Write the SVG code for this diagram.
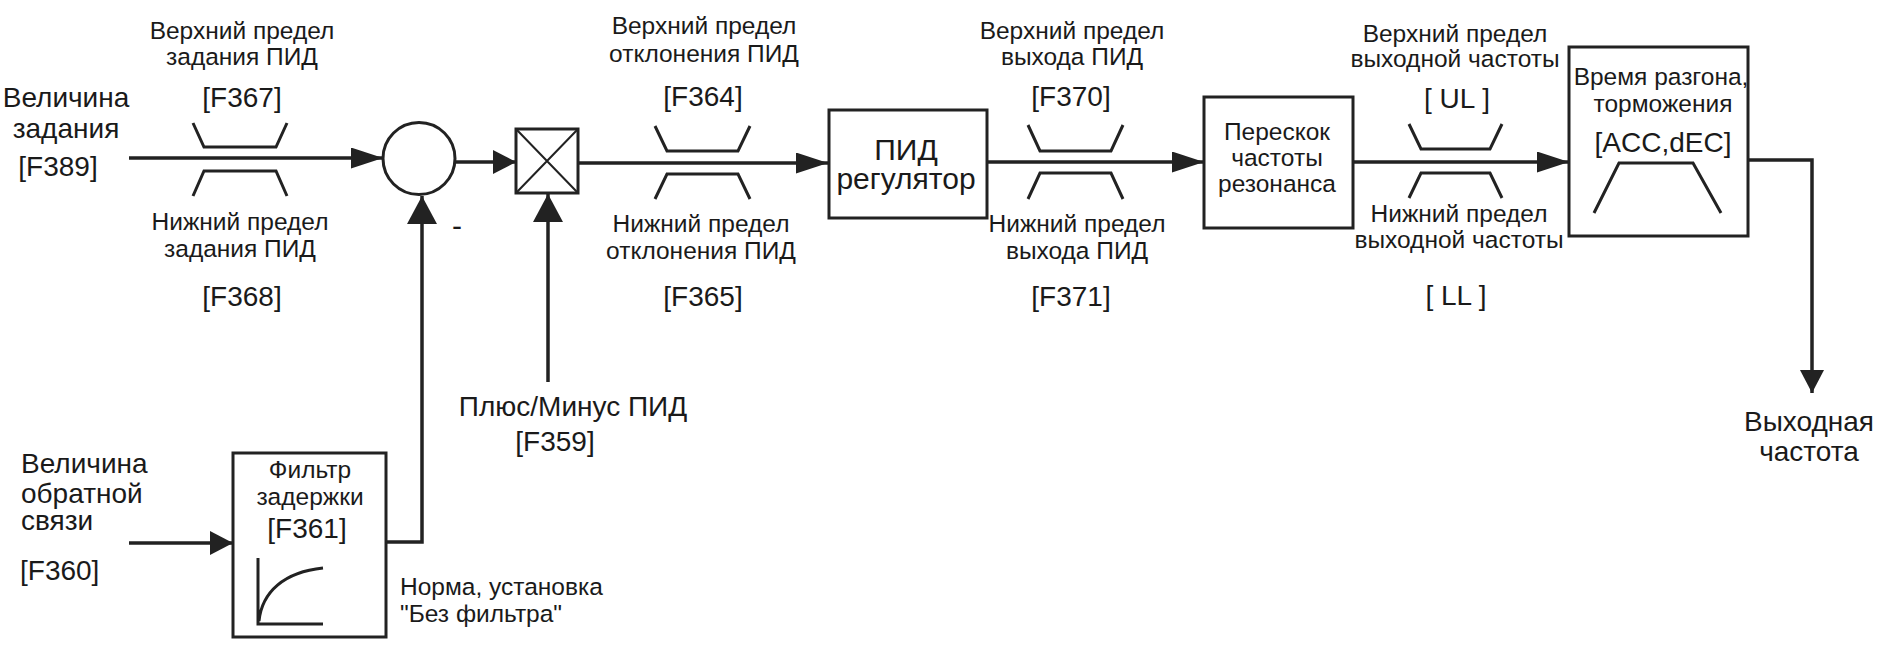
<svg xmlns="http://www.w3.org/2000/svg" width="1877" height="645" viewBox="0 0 1877 645">
<style>
text{font-family:"Liberation Sans",Arial,sans-serif;fill:#1a1a1a}
.s{font-size:24.5px}
.c{font-size:28px}
.b{font-size:28px}
.m{text-anchor:middle}
.box{fill:#fff;stroke:#222;stroke-width:3}
.lim{fill:none;stroke:#222;stroke-width:3}
.ln{fill:none;stroke:#222;stroke-width:3.5}
</style>
<defs>
<marker id="ah" markerUnits="userSpaceOnUse" markerWidth="32" markerHeight="21" refX="32" refY="10.5" orient="auto" viewBox="0 0 32 21"><path d="M0,0L32,10.5L0,21z" fill="#222"/></marker>
<marker id="ahs" markerUnits="userSpaceOnUse" markerWidth="23" markerHeight="24" refX="23" refY="12" orient="auto" viewBox="0 0 23 24"><path d="M0,0L23,12L0,24z" fill="#222"/></marker>
<marker id="ahv" markerUnits="userSpaceOnUse" markerWidth="28" markerHeight="30" refX="28" refY="15" orient="auto" viewBox="0 0 28 30"><path d="M0,0L28,15L0,30z" fill="#222"/></marker>
</defs>
<rect width="1877" height="645" fill="#fff"/>

<g id="connectors">
<path class="ln" d="M129,158H383" marker-end="url(#ah)"/>
<path class="ln" d="M455,162H516" marker-end="url(#ahs)"/>
<path class="ln" d="M578,163H828" marker-end="url(#ah)"/>
<path class="ln" d="M987,162H1204" marker-end="url(#ah)"/>
<path class="ln" d="M1353,162H1569" marker-end="url(#ah)"/>
<path class="ln" d="M1748,160H1812V393" marker-end="url(#ahs)"/>
<path class="ln" d="M129,543H233" marker-end="url(#ahs)"/>
<path class="ln" d="M386,542H422V196" marker-end="url(#ahv)"/>
<path class="ln" d="M548,382V194" marker-end="url(#ahv)"/>
</g>

<g id="input-setpoint">
<text class="b m" x="66" y="107">Величина</text>
<text class="b m" x="66" y="138">задания</text>
<text class="c m" x="58" y="176">[F389]</text>
</g>

<g id="limit-setpoint">
<path class="lim" d="M193,123L204,147L276,147L287,123M193,196L204,171L276,171L287,196"/>
<text class="s m" x="242" y="39">Верхний предел</text>
<text class="s m" x="242" y="65">задания ПИД</text>
<text class="c m" x="242" y="107">[F367]</text>
<text class="s m" x="240" y="230">Нижний предел</text>
<text class="s m" x="240" y="257">задания ПИД</text>
<text class="c m" x="242" y="306">[F368]</text>
</g>

<g id="summer">
<circle cx="419" cy="158.5" r="36" fill="#fff" stroke="#222" stroke-width="3"/>
<text class="m" x="457" y="236" font-size="30">-</text>
</g>

<g id="multiplier">
<rect class="box" x="516" y="129" width="62" height="64" stroke-width="2.5"/>
<path d="M516,129L578,193M578,129L516,193" stroke="#222" stroke-width="2" fill="none"/>
</g>

<g id="sign-label">
<text class="c m" x="573" y="416">Плюс/Минус ПИД</text>
<text class="c m" x="555" y="451">[F359]</text>
</g>

<g id="limit-deviation">
<path class="lim" d="M655,126L667,151L738,151L750,126M655,199L667,174L738,174L750,199"/>
<text class="s m" x="704" y="34">Верхний предел</text>
<text class="s m" x="704" y="62">отклонения ПИД</text>
<text class="c m" x="703" y="106">[F364]</text>
<text class="s m" x="701" y="232">Нижний предел</text>
<text class="s m" x="701" y="259">отклонения ПИД</text>
<text class="c m" x="703" y="306">[F365]</text>
</g>

<g id="pid">
<rect class="box" x="829" y="110" width="158" height="108"/>
<text class="m" x="906" y="160" font-size="30">ПИД</text>
<text class="m" x="906" y="189" font-size="30">регулятор</text>
</g>

<g id="limit-output">
<path class="lim" d="M1028,125L1040,151L1111,151L1123,125M1028,199L1040,173L1111,173L1123,199"/>
<text class="s m" x="1072" y="39">Верхний предел</text>
<text class="s m" x="1072" y="65">выхода ПИД</text>
<text class="c m" x="1071" y="106">[F370]</text>
<text class="s m" x="1077" y="232">Нижний предел</text>
<text class="s m" x="1077" y="259">выхода ПИД</text>
<text class="c m" x="1071" y="306">[F371]</text>
</g>

<g id="jump">
<rect class="box" x="1204" y="97" width="149" height="131"/>
<text class="s m" x="1277" y="140">Перескок</text>
<text class="s m" x="1277" y="166">частоты</text>
<text class="s m" x="1277" y="192">резонанса</text>
</g>

<g id="limit-frequency">
<path class="lim" d="M1409,124L1421,149L1490,149L1502,124M1409,198L1421,173L1490,173L1502,198"/>
<text class="s m" x="1455" y="42">Верхний предел</text>
<text class="s m" x="1455" y="67">выходной частоты</text>
<text class="c m" x="1457" y="108">[ UL ]</text>
<text class="s m" x="1459" y="222">Нижний предел</text>
<text class="s m" x="1459" y="248">выходной частоты</text>
<text class="c m" x="1456" y="305">[ LL ]</text>
</g>

<g id="ramp">
<rect class="box" x="1569" y="47" width="179" height="189"/>
<text class="s m" x="1661" y="85">Время разгона,</text>
<text class="s m" x="1663" y="112">торможения</text>
<text class="m" x="1663" y="152" font-size="28">[ACC,dEC]</text>
<path class="lim" d="M1594,213L1619,163L1693,163L1721,213"/>
</g>

<g id="output">
<text class="b m" x="1809" y="431">Выходная</text>
<text class="b m" x="1809" y="461">частота</text>
</g>

<g id="input-feedback">
<text class="b" x="21" y="473">Величина</text>
<text class="b" x="21" y="503">обратной</text>
<text class="b" x="21" y="530">связи</text>
<text class="c" x="20" y="580">[F360]</text>
</g>

<g id="filter">
<rect class="box" x="233" y="453" width="153" height="184"/>
<text class="s m" x="310" y="478">Фильтр</text>
<text class="s m" x="310" y="505">задержки</text>
<text class="c m" x="307" y="538">[F361]</text>
<path class="lim" d="M258,558V624H323M259,621C262,592 284,572 323,568"/>
<text class="s" x="400" y="595">Норма, установка</text>
<text class="s" x="400" y="622">"Без фильтра"</text>
</g>
</svg>
